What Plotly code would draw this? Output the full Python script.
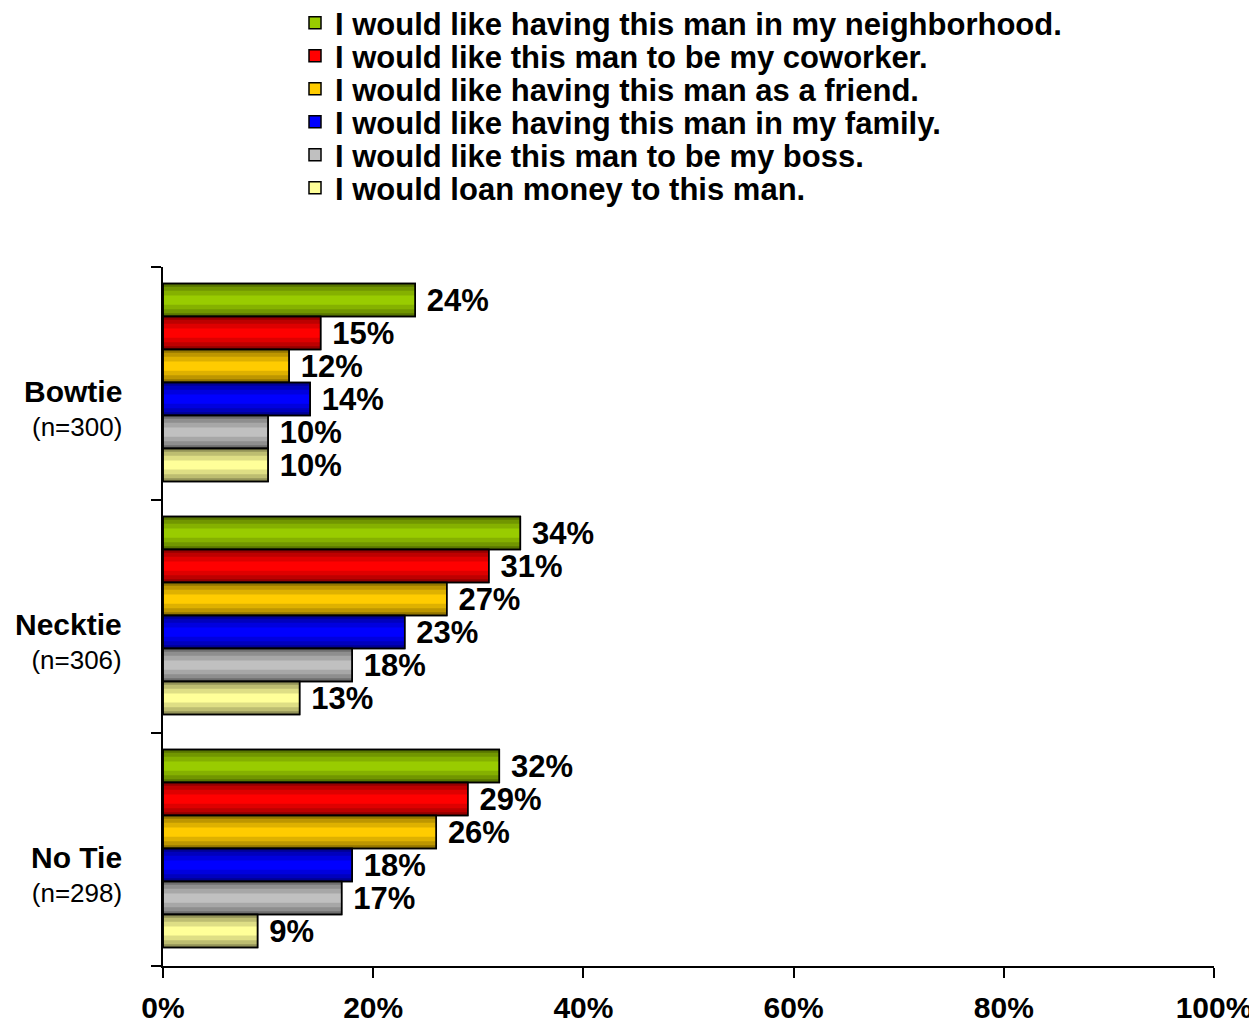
import plotly.graph_objects as go

categories = ["Bowtie", "Necktie", "No Tie"]
sample_sizes = ["(n=300)", "(n=306)", "(n=298)"]
series_names = [
    "I would like having this man in my neighborhood.",
    "I would like this man to be my coworker.",
    "I would like having this man as a friend.",
    "I would like having this man in my family.",
    "I would like this man to be my boss.",
    "I would loan money to this man.",
]
neighborhood = [24, 34, 32]
coworker = [15, 31, 29]
friend = [12, 27, 26]
family = [14, 23, 18]
boss = [10, 18, 17]
loan = [10, 13, 9]
series_values = [neighborhood, coworker, friend, family, boss, loan]
colors = ["#99CC00", "#FF0000", "#FFCC00", "#0000FF", "#C0C0C0", "#FFFF99"]
x_ticks = [0, 20, 40, 60, 80, 100]
x_tick_labels = ["0%", "20%", "40%", "60%", "80%", "100%"]

FONT = "Arial, 'Liberation Sans', sans-serif"
bar_w = 0.1416
start = -0.429

# screen layout (page has an 8px body margin)
PLOT_TOP, PLOT_BOTTOM, PLOT_LEFT, PLOT_RIGHT = 267, 966, 163, 1214
PH = PLOT_BOTTOM - PLOT_TOP
PW = PLOT_RIGHT - PLOT_LEFT

fig = go.Figure()
legend_layouts = {}
for i, (name, vals, col) in enumerate(zip(series_names, series_values, colors)):
    off = start + i * bar_w
    lg = "legend" if i == 0 else f"legend{i + 1}"
    item_center = 23 + 33 * i
    legend_layouts[lg] = dict(
        xref="paper", yref="paper",
        x=(295 - PLOT_LEFT) / PW, y=(PLOT_BOTTOM - item_center) / PH,
        xanchor="left", yanchor="middle",
        font=dict(family=FONT, size=31, color="black"),
        itemwidth=30, bgcolor="rgba(0,0,0,0)",
    )
    # base bar (legend)
    fig.add_trace(go.Bar(
        x=vals, y=categories, orientation="h", name=f"<b>{name}</b>",
        width=bar_w, offset=off, legend=lg,
        marker=dict(color=col, line=dict(color="black", width=1.5)),
        showlegend=True, hoverinfo="skip",
    ))
    # shading bands (top and bottom edges)
    bands = [(0.36, 0.13), (0.22, 0.15), (0.10, 0.22)]
    for frac, alpha in bands:
        for pos in ("top", "bottom"):
            o = off if pos == "top" else off + bar_w * (1 - frac)
            fig.add_trace(go.Bar(
                x=vals, y=categories, orientation="h",
                width=bar_w * frac, offset=o,
                marker=dict(color=f"rgba(0,0,0,{alpha})", line=dict(width=0)),
                showlegend=False, hoverinfo="skip",
            ))
    # outline with labels
    fig.add_trace(go.Bar(
        x=vals, y=categories, orientation="h",
        width=bar_w, offset=off,
        marker=dict(color="rgba(0,0,0,0)", line=dict(color="black", width=1.5)),
        text=[f"{v}%" for v in vals], textposition="outside",
        textfont=dict(family=FONT, size=31, color="black"),
        texttemplate="<b>\u00a0%{text}</b>",
        constraintext="none", cliponaxis=False,
        showlegend=False, hoverinfo="skip",
    ))

annotations = []
for c, n in zip(categories, sample_sizes):
    annotations.append(dict(
        x=0, xref="paper", y=c, yref="y",
        xanchor="right", yanchor="middle", align="right",
        xshift=-39, yshift=-25, showarrow=False,
        text=f"<span style='font-size:30px'><b>{c}</b></span><br>{n}",
        font=dict(family=FONT, size=26, color="black"),
    ))

fig.update_layout(
    width=1249, height=1020,
    barmode="overlay",
    plot_bgcolor="white", paper_bgcolor="white",
    margin=dict(l=PLOT_LEFT - 8, r=1257 - PLOT_RIGHT, t=PLOT_TOP - 8,
                b=1028 - PLOT_BOTTOM, autoexpand=False),
    font=dict(family=FONT, color="black"),
    annotations=annotations,
    xaxis=dict(
        range=[0, 100], tickvals=x_ticks, ticktext=[f"<b>{t}</b>" for t in x_tick_labels],
        ticks="outside", ticklen=10, tickwidth=2, tickcolor="black",
        showline=True, linecolor="black", linewidth=2,
        showgrid=False, zeroline=False, tickangle=0,
        tickfont=dict(family=FONT, size=30, color="black"),
        ticklabelstandoff=4,
    ),
    yaxis=dict(
        categoryorder="array", categoryarray=categories,
        range=[2.5, -0.5], tickvals=categories,
        tickson="boundaries", showticklabels=False,
        ticks="outside", ticklen=10, tickwidth=2, tickcolor="black",
        showline=True, linecolor="black", linewidth=2,
        showgrid=False, zeroline=False,
    ),
    **legend_layouts,
)

fig.write_html("out.html")
